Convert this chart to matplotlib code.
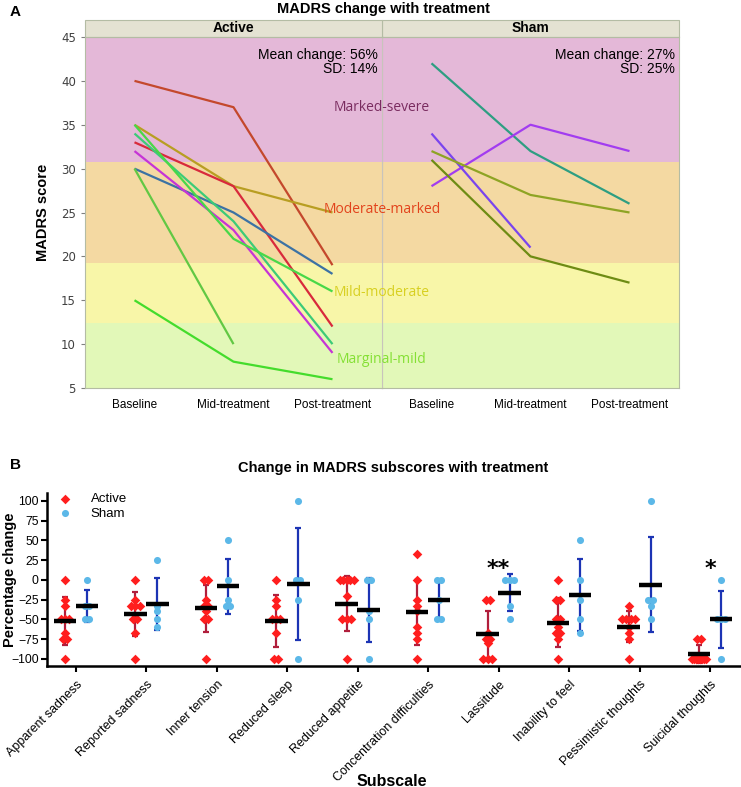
import numpy as np
import matplotlib
matplotlib.use("Agg")
import matplotlib.pyplot as plt
from matplotlib.patches import Rectangle

# ---------------- Data: panel A ----------------
timepoints = ["Baseline", "Mid-treatment", "Post-treatment"]
active_lines = [
    [40, 37, 19],
    [35, 28, 25],
    [33, 28, 12],
    [30, 25, 18],
    [32, 23, 9],
    [34, 24, 10],
    [35, 22, 16],
    [30, 10, np.nan],
    [15, 8, 6],
]
active_colors = ["#C4482C", "#B89E22", "#D82A3C", "#3C72A4", "#C634D6",
                 "#3CCB78", "#48D848", "#62C844", "#44DC2C"]
sham_lines = [
    [42, 32, 26],
    [28, 35, 32],
    [34, 21, np.nan],
    [32, 27, 25],
    [31, 20, 17],
]
sham_colors = ["#2E9E82", "#A23CF0", "#7A44EE", "#8EA424", "#6E8C14"]
band_edges = [5, 12.4, 19.2, 30.8, 45]
band_colors = ["#E2F8B8", "#F8F6A8", "#F4D9A2", "#E4B8D8"]
band_names = ["Marginal-mild", "Mild-moderate", "Moderate-marked", "Marked-severe"]
band_label_y = [8.3, 15.9, 25.3, 37.0]
band_label_colors = ["#84E034", "#D8D022", "#E2431C", "#7A2C60"]
mean_change_text = ["Mean change: 56%\nSD: 14%", "Mean change: 27%\nSD: 25%"]

# ---------------- Data: panel B ----------------
subscales = ["Apparent sadness", "Reported sadness", "Inner tension", "Reduced sleep",
             "Reduced appetite", "Concentration difficulties", "Lassitude",
             "Inability to feel", "Pessimistic thoughts", "Suicidal thoughts"]
active_pts = [
    [0, -25, -33, -50, -50, -50, -67, -75, -75, -100],
    [0, -25, -33, -33, -33, -50, -50, -67, -100],
    [0, 0, -25, -33, -33, -40, -50, -50, -100],
    [0, -25, -33, -50, -50, -50, -67, -100, -100],
    [0, 0, 0, 0, 0, -20, -50, -50, -50, -100],
    [33, 0, -25, -33, -40, -60, -67, -75, -100],
    [-25, -25, -67, -75, -75, -80, -100, -100, -100],
    [0, -25, -25, -50, -50, -60, -67, -67, -75, -100],
    [-33, -50, -50, -50, -50, -60, -67, -75, -100],
    [-75, -75, -100, -100, -100, -100, -100, -100, -100, -100],
]
sham_pts = [
    [0, -33, -33, -50, -50],
    [25, -33, -40, -50, -60],
    [50, 0, -25, -33, -33],
    [100, 0, 0, -25, -100],
    [0, 0, -40, -50, -100],
    [0, 0, -25, -50, -50],
    [0, 0, 0, -33, -50],
    [50, 0, -25, -50, -67],
    [100, -25, -25, -33, -50],
    [0, -50, -50, -50, -100],
]
active_mean = [-52, -43, -36, -52, -30, -41, -69, -54, -59, -94]
active_sd = [30, 28, 30, 33, 35, 41, 30, 31, 19, 11]
sham_mean = [-33, -31, -8, -5, -38, -25, -16, -19, -6, -50]
sham_sd = [20, 33, 35, 71, 41, 25, 24, 46, 60, 36]
sig_marks = {6: "**", 9: "*"}

W, H = 741, 787
fig = plt.figure(figsize=(W / 100, H / 100), dpi=100)
SANS = ["Liberation Sans", "DejaVu Sans"]

def fx(px):
    return px / W

def fy(py):
    return 1 - py / H

# ---------------- Panel A ----------------
L, R, MID = 85, 679, 382
TOP, BOT, STRIP = 37, 388, 20
ax1 = fig.add_axes([fx(L), fy(BOT), fx(MID - L), (BOT - TOP) / H])
ax2 = fig.add_axes([fx(MID), fy(BOT), fx(R - MID), (BOT - TOP) / H])
frame_col = "#B4BCA4"
for ax, lines, cols, name, mtxt in [(ax1, active_lines, active_colors, "Active", mean_change_text[0]),
                                    (ax2, sham_lines, sham_colors, "Sham", mean_change_text[1])]:
    for i in range(4):
        ax.axhspan(band_edges[i], band_edges[i + 1], color=band_colors[i], lw=0, zorder=0)
    x = np.arange(3)
    for vals, c in zip(lines, cols):
        ax.plot(x, vals, color=c, lw=1.6, zorder=3, solid_capstyle="butt")
    ax.set_xlim(-0.5, 2.5)
    ax.set_ylim(5, 45)
    ax.set_xticks(x)
    ax.set_xticklabels(timepoints, fontsize=8.5,
                       family=["Liberation Sans Narrow", "Liberation Sans", "DejaVu Sans"])
    ax.tick_params(axis="x", length=0, pad=8)
    for s in ax.spines.values():
        s.set_color(frame_col)
        s.set_linewidth(0.8)
    ax.text(0.985, 0.968, mtxt, transform=ax.transAxes, ha="right", va="top",
            fontsize=10, linespacing=1.0, family=SANS, zorder=5)
    # strip header
    ax.add_patch(Rectangle((0, 1.0), 1, (TOP - STRIP) / (BOT - TOP), transform=ax.transAxes,
                           facecolor="#E4E2D2", edgecolor=frame_col, lw=0.8, clip_on=False))
    ax.text(0.5, 1.0 + (TOP - STRIP) / 2 / (BOT - TOP), name, transform=ax.transAxes,
            ha="center", va="center", fontsize=10, fontweight="bold", family=SANS)

ax1.set_yticks(range(5, 50, 5))
ax1.tick_params(axis="y", labelsize=8.5, labelcolor="#404040", color="#808080", length=3)
ax1.set_ylabel("MADRS score", fontsize=10.5, fontweight="bold", family=SANS, labelpad=8)
ax2.set_yticks([])
ax1.spines["right"].set_color("#C8C4BC")
ax2.spines["left"].set_color("#C8C4BC")
ax1.set_zorder(2)
ax2.set_zorder(1)
for name, yv, c in zip(band_names, band_label_y, band_label_colors):
    ax1.text(2.5, yv, name, ha="center", va="center", fontsize=10, color=c,
             family=["Open Sans", "DejaVu Sans"], zorder=6, clip_on=False)

fig.text(fx(383), fy(9), "MADRS change with treatment", ha="center", va="center",
         fontsize=10.5, fontweight="bold", family=SANS)
fig.text(fx(10), fy(12), "A", ha="left", va="center", fontsize=11, fontweight="bold", family=SANS)

# ---------------- Panel B ----------------
BL, BR, BT, BB = 47, 741, 493, 666
axb = fig.add_axes([fx(BL), fy(BB), fx(BR - BL), (BB - BT) / H])
axb.set_xlim(-0.41, 9.44)
axb.set_ylim(-109, 110)
off = 0.156

def spread(vals, center):
    vals = np.asarray(vals, float)
    xs = np.zeros_like(vals)
    for v in np.unique(vals):
        idx = np.where(vals == v)[0]
        n = len(idx)
        sp = 0.06 if n <= 3 else min(0.06, 0.2 / (n - 1))
        xs[idx] = center + (np.arange(n) - (n - 1) / 2) * sp
    return xs

act_c, sham_c = "#FF1E1E", "#5CB8E8"
act_err, sham_err = "#B01E3C", "#1C34B4"
for i in range(len(subscales)):
    ca, cs = i - off, i + off
    axb.errorbar(ca, active_mean[i], yerr=active_sd[i], fmt="none", ecolor=act_err,
                 elinewidth=1.6, capsize=2.5, capthick=1.6, zorder=2)
    axb.errorbar(cs, sham_mean[i], yerr=sham_sd[i], fmt="none", ecolor=sham_err,
                 elinewidth=1.6, capsize=2.5, capthick=1.6, zorder=2)
    axb.scatter(spread(active_pts[i], ca), active_pts[i], marker="D", s=24, color=act_c,
                lw=0, zorder=3)
    axb.scatter(spread(sham_pts[i], cs), sham_pts[i], marker="o", s=26, color=sham_c,
                lw=0, zorder=3)
    axb.plot([ca - 0.16, ca + 0.16], [active_mean[i]] * 2, color="black", lw=3.2, zorder=4,
             solid_capstyle="butt")
    axb.plot([cs - 0.16, cs + 0.16], [sham_mean[i]] * 2, color="black", lw=3.2, zorder=4,
             solid_capstyle="butt")
for k, s in sig_marks.items():
    axb.text(k, 14, s, ha="center", va="center", fontsize=16, fontweight="bold")

axb.set_xticks(range(len(subscales)))
axb.set_xticklabels(subscales, rotation=45, ha="right", rotation_mode="anchor", fontsize=9,
                    family=SANS)
axb.set_yticks(range(-100, 101, 25))
axb.tick_params(axis="y", labelsize=8.8, width=1.5, length=4, pad=2)
axb.tick_params(axis="x", width=1.5, length=4, pad=5)
for t in axb.get_yticklabels():
    t.set_family(SANS)
axb.spines["top"].set_visible(False)
axb.spines["right"].set_visible(False)
axb.spines["left"].set_linewidth(1.8)
axb.spines["bottom"].set_linewidth(1.8)
fig.text(fx(10), fy(580), "Percentage change", rotation=90, ha="center", va="center",
         fontsize=10.5, fontweight="bold", family=SANS)

# legend
axb.scatter([], [], marker="D", s=24, color=act_c, lw=0, label="Active")
axb.scatter([], [], marker="o", s=26, color=sham_c, lw=0, label="Sham")
axb.legend(loc="upper left", bbox_to_anchor=(0.0, 1.03), frameon=False,
           handletextpad=0.9, borderaxespad=0, labelspacing=0.15,
           prop={"family": SANS, "size": 9.5})

fig.text(fx(393), fy(468), "Change in MADRS subscores with treatment", ha="center", va="center",
         fontsize=10.5, fontweight="bold", family=SANS)
fig.text(fx(392), fy(781), "Subscale", ha="center", va="center", fontsize=11.5,
         fontweight="bold", family=SANS)
fig.text(fx(10), fy(465), "B", ha="left", va="center", fontsize=11, fontweight="bold", family=SANS)

fig.savefig("out.png", dpi=100)
